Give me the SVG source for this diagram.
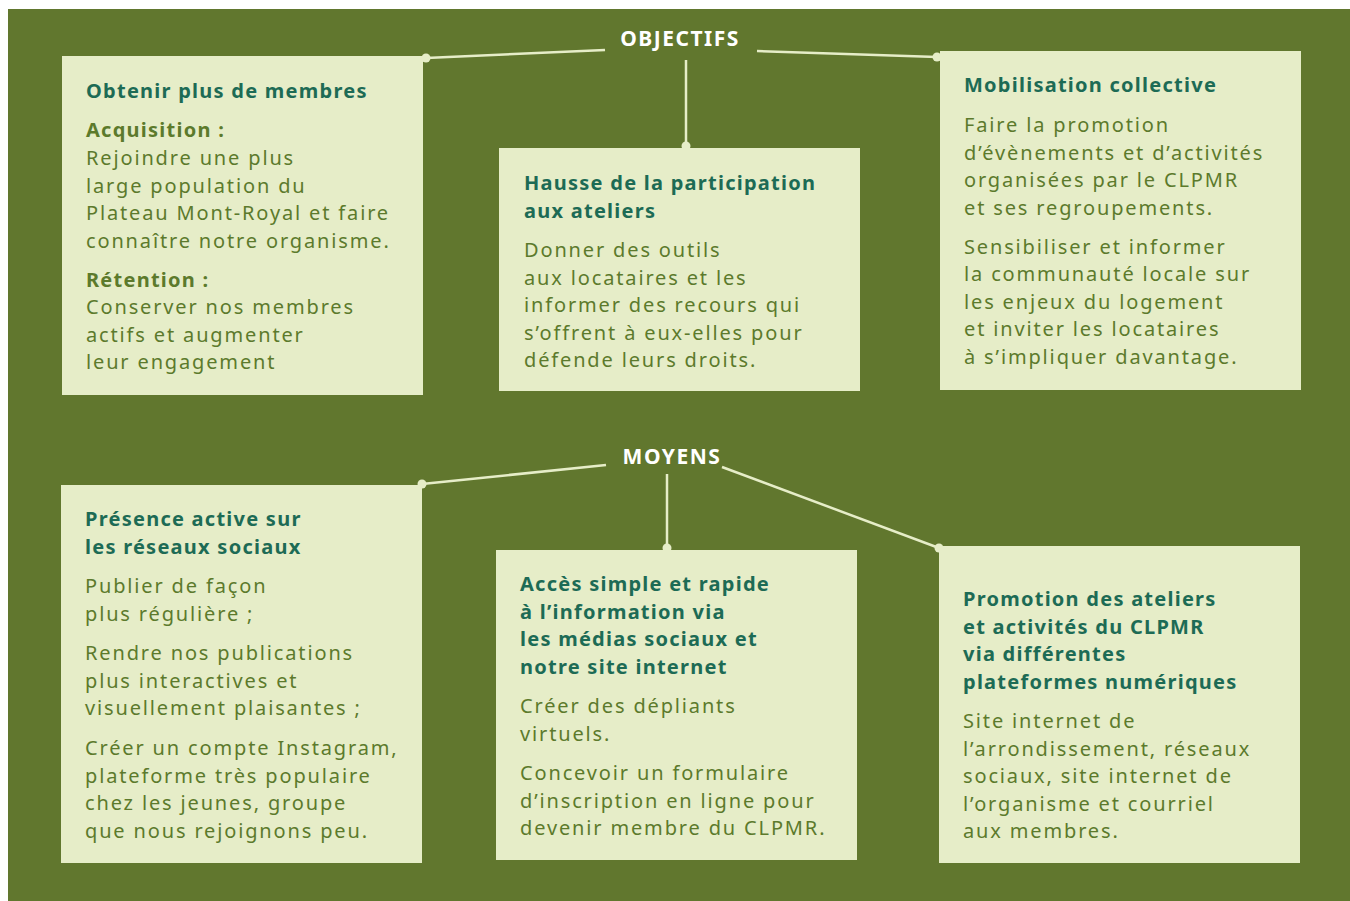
<svg xmlns="http://www.w3.org/2000/svg" width="1350" height="901" viewBox="0 0 1350 901">
<style>
.box{fill:#e6edc8}
.t{font-family:"Noto Sans","Open Sans",sans-serif;font-weight:700;font-size:20px;letter-spacing:1.25px;fill:#1d6b55}
.s{font-family:"Noto Sans","Open Sans",sans-serif;font-weight:700;font-size:20px;letter-spacing:1.25px;fill:#5c7a2c}
.b{font-family:"Noto Sans","Open Sans",sans-serif;font-size:20px;letter-spacing:1.85px;fill:#5c7a2c}
.h{font-family:"Noto Sans","Open Sans",sans-serif;font-weight:700;font-size:21px;fill:#ffffff;letter-spacing:1.5px}
.ln{stroke:#e6edc8;stroke-width:2.5;fill:none}
.dot{fill:#e6edc8}
</style>
<rect x="0" y="0" width="1350" height="901" fill="#ffffff"/>
<rect x="8" y="9" width="1342" height="892" fill="#61772e"/>

<g id="header-objectifs"><text class="h" x="680" y="46" text-anchor="middle">OBJECTIFS</text></g>
<g id="header-moyens"><text class="h" x="672" y="464" text-anchor="middle">MOYENS</text></g>

<g id="connectors">
<line class="ln" x1="426" y1="58" x2="605" y2="50"/>
<line class="ln" x1="757" y1="51" x2="937" y2="57"/>
<line class="ln" x1="686" y1="60" x2="686" y2="146"/>
<line class="ln" x1="422" y1="484" x2="606" y2="465"/>
<line class="ln" x1="667" y1="474" x2="667" y2="548"/>
<line class="ln" x1="722" y1="467" x2="939" y2="548"/>
<circle class="dot" cx="426" cy="58" r="4.5"/>
<circle class="dot" cx="937" cy="57" r="4.5"/>
<circle class="dot" cx="686" cy="146" r="4.5"/>
<circle class="dot" cx="422" cy="484" r="4.5"/>
<circle class="dot" cx="667" cy="548" r="4.5"/>
<circle class="dot" cx="939" cy="548" r="4.5"/>
</g>

<g id="obj-membres">
<rect class="box" x="62" y="56" width="361" height="339"/>
<text class="t" x="86" y="98">Obtenir plus de membres</text>
<text class="s" x="86" y="137">Acquisition :</text>
<text class="b" x="86"><tspan x="86" y="165">Rejoindre une plus</tspan><tspan x="86" y="192.5">large population du</tspan><tspan x="86" y="220">Plateau Mont-Royal et faire</tspan><tspan x="86" y="247.5">connaître notre organisme.</tspan></text>
<text class="s" x="86" y="287">Rétention :</text>
<text class="b"><tspan x="86" y="314">Conserver nos membres</tspan><tspan x="86" y="341.5">actifs et augmenter</tspan><tspan x="86" y="369">leur engagement</tspan></text>
</g>

<g id="obj-participation">
<rect class="box" x="499" y="148" width="361" height="243"/>
<text class="t"><tspan x="524" y="190">Hausse de la participation</tspan><tspan x="524" y="218">aux ateliers</tspan></text>
<text class="b"><tspan x="524" y="257">Donner des outils</tspan><tspan x="524" y="284.5">aux locataires et les</tspan><tspan x="524" y="312">informer des recours qui</tspan><tspan x="524" y="339.5">s’offrent à eux-elles pour</tspan><tspan x="524" y="367">défende leurs droits.</tspan></text>
</g>

<g id="obj-mobilisation">
<rect class="box" x="940" y="51" width="361" height="339"/>
<text class="t" x="964" y="92">Mobilisation collective</text>
<text class="b"><tspan x="964" y="132">Faire la promotion</tspan><tspan x="964" y="159.5">d’évènements et d’activités</tspan><tspan x="964" y="187">organisées par le CLPMR</tspan><tspan x="964" y="214.5">et ses regroupements.</tspan></text>
<text class="b"><tspan x="964" y="253.5">Sensibiliser et informer</tspan><tspan x="964" y="281">la communauté locale sur</tspan><tspan x="964" y="308.5">les enjeux du logement</tspan><tspan x="964" y="336">et inviter les locataires</tspan><tspan x="964" y="363.5">à s’impliquer davantage.</tspan></text>
</g>

<g id="moy-reseaux">
<rect class="box" x="61" y="485" width="361" height="378"/>
<text class="t"><tspan x="85" y="526">Présence active sur</tspan><tspan x="85" y="553.5">les réseaux sociaux</tspan></text>
<text class="b"><tspan x="85" y="593">Publier de façon</tspan><tspan x="85" y="620.5">plus régulière ;</tspan></text>
<text class="b"><tspan x="85" y="660">Rendre nos publications</tspan><tspan x="85" y="687.5">plus interactives et</tspan><tspan x="85" y="715">visuellement plaisantes ;</tspan></text>
<text class="b"><tspan x="85" y="755">Créer un compte Instagram,</tspan><tspan x="85" y="782.5">plateforme très populaire</tspan><tspan x="85" y="810">chez les jeunes, groupe</tspan><tspan x="85" y="837.5">que nous rejoignons peu.</tspan></text>
</g>

<g id="moy-acces">
<rect class="box" x="496" y="550" width="361" height="310"/>
<text class="t"><tspan x="520" y="591">Accès simple et rapide</tspan><tspan x="520" y="618.5">à l’information via</tspan><tspan x="520" y="646">les médias sociaux et</tspan><tspan x="520" y="673.5">notre site internet</tspan></text>
<text class="b"><tspan x="520" y="713">Créer des dépliants</tspan><tspan x="520" y="740.5">virtuels.</tspan></text>
<text class="b"><tspan x="520" y="780">Concevoir un formulaire</tspan><tspan x="520" y="807.5">d’inscription en ligne pour</tspan><tspan x="520" y="835">devenir membre du CLPMR.</tspan></text>
</g>

<g id="moy-promotion">
<rect class="box" x="939" y="546" width="361" height="317"/>
<text class="t"><tspan x="963" y="606">Promotion des ateliers</tspan><tspan x="963" y="633.5">et activités du CLPMR</tspan><tspan x="963" y="661">via différentes</tspan><tspan x="963" y="688.5">plateformes numériques</tspan></text>
<text class="b"><tspan x="963" y="728">Site internet de</tspan><tspan x="963" y="755.5">l’arrondissement, réseaux</tspan><tspan x="963" y="783">sociaux, site internet de</tspan><tspan x="963" y="810.5">l’organisme et courriel</tspan><tspan x="963" y="838">aux membres.</tspan></text>
</g>
</svg>
